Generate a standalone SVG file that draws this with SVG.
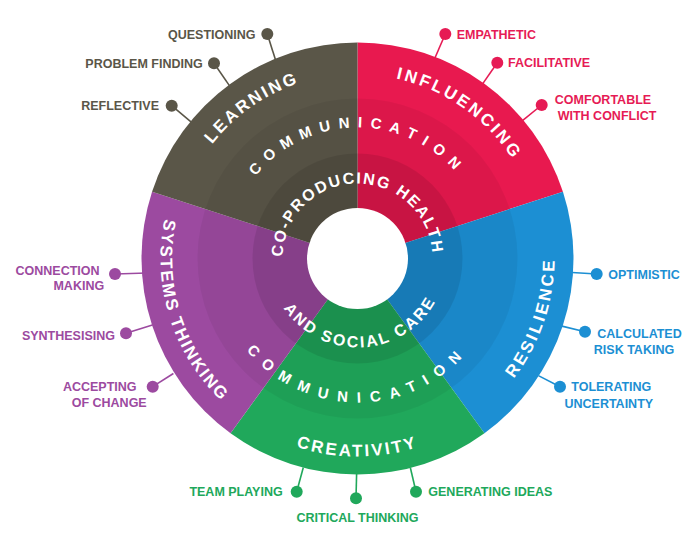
<svg xmlns="http://www.w3.org/2000/svg" xmlns:xlink="http://www.w3.org/1999/xlink" width="688" height="533" viewBox="0 0 688 533">
<style>
text{font-family:"Liberation Sans",Arial,sans-serif;font-weight:bold;}
.lbl{font-size:12.5px;}
.wt{fill:#fff;font-size:17px;}
.ring{fill:#fff;font-size:15px;}
.inner{fill:#fff;font-size:16px;}
.ol{fill:#5a5648}.rd{fill:#e61b55}.bl{fill:#1c8fd3}.gr{fill:#20a85b}.pu{fill:#9c4aa0}
.con line{stroke-width:1.6}
</style>
<defs>
<path id="pLearn" d="M189.83,336.68 A185,185 0 0 1 488.31,127.69"/>
<path id="pInfl" d="M227.39,128.39 A184,184 0 0 1 524.26,336.26"/>
<path id="pCommTop" d="M228.49,235.75 A131,131 0 0 1 486.51,235.75"/>
<path id="pCoProd" d="M282.91,266.34 A75,75 0 1 1 432.32,263.73"/>
<path id="pSocial" d="M269.37,270.89 A89,89 0 0 0 446.45,261.61"/>
<path id="pCommBot" d="M215.69,283.51 A144,144 0 0 0 499.31,283.51"/>
<path id="pCreat" d="M162.51,292.88 A198,198 0 0 0 552.49,292.88"/>
<path id="pSys" d="M266.54,83.76 A197,197 0 0 0 383.21,453.81"/>
<path id="pRes" d="M327.70,453.23 A197,197 0 0 0 452.10,85.70"/>
</defs>

<g id="connectors" class="con">
<line x1="267.3" y1="34" x2="276.5" y2="63" stroke="#5a5648"/>
<line x1="214" y1="63.3" x2="230.1" y2="86.6" stroke="#5a5648"/>
<line x1="171.7" y1="105.7" x2="191.3" y2="122.2" stroke="#5a5648"/>
<line x1="445.3" y1="34" x2="434.6" y2="58.8" stroke="#e61b55"/>
<line x1="497.3" y1="62.7" x2="481.9" y2="84.9" stroke="#e61b55"/>
<line x1="541.7" y1="105" x2="520.6" y2="122.1" stroke="#e61b55"/>
<line x1="596.7" y1="274" x2="568" y2="272.2" stroke="#1c8fd3"/>
<line x1="585" y1="331.7" x2="560.9" y2="325.9" stroke="#1c8fd3"/>
<line x1="560" y1="386.7" x2="538.4" y2="375.6" stroke="#1c8fd3"/>
<line x1="296.7" y1="491.7" x2="303.3" y2="467.5" stroke="#20a85b"/>
<line x1="356" y1="498.3" x2="356.7" y2="470" stroke="#20a85b"/>
<line x1="416" y1="491.7" x2="410.3" y2="467.5" stroke="#20a85b"/>
<line x1="115" y1="274" x2="147" y2="273" stroke="#9c4aa0"/>
<line x1="126" y1="333.3" x2="152.4" y2="324.9" stroke="#9c4aa0"/>
<line x1="152.7" y1="386.7" x2="173.4" y2="373.5" stroke="#9c4aa0"/>
</g>

<g id="influencing">
<path d="M357.5,258.5 L357.5,42.5 A216,216 0 0 1 562.93,191.75 Z" fill="#e8194f"/>
</g>
<g id="resilience">
<path d="M357.5,258.5 L562.93,191.75 A216,216 0 0 1 484.46,433.25 Z" fill="#1c8fd3"/>
</g>
<g id="creativity">
<path d="M357.5,258.5 L484.46,433.25 A216,216 0 0 1 230.54,433.25 Z" fill="#20a85b"/>
</g>
<g id="systems-thinking">
<path d="M357.5,258.5 L230.54,433.25 A216,216 0 0 1 152.07,191.75 Z" fill="#9c4aa0"/>
</g>
<g id="learning">
<path d="M357.5,258.5 L152.07,191.75 A216,216 0 0 1 357.5,42.5 Z" fill="#5a5648"/>
</g>

<g id="rings">
<circle cx="357.5" cy="258.5" r="160" fill="#000" fill-opacity="0.05"/>
<circle cx="357.5" cy="258.5" r="105" fill="#000" fill-opacity="0.09"/>
<circle cx="357.5" cy="258.5" r="50.5" fill="#fff"/>
</g>

<g id="wheel-titles">
<text class="wt" letter-spacing="2.5"><textPath xlink:href="#pLearn" href="#pLearn" startOffset="50%" text-anchor="middle">LEARNING</textPath></text>
<text class="wt" letter-spacing="2.8"><textPath xlink:href="#pInfl" href="#pInfl" startOffset="50%" text-anchor="middle">INFLUENCING</textPath></text>
<text class="wt" letter-spacing="2.8"><textPath xlink:href="#pRes" href="#pRes" startOffset="50%" text-anchor="middle">RESILIENCE</textPath></text>
<text class="wt" letter-spacing="2.5"><textPath xlink:href="#pCreat" href="#pCreat" startOffset="50%" text-anchor="middle">CREATIVITY</textPath></text>
<text class="wt" letter-spacing="2"><textPath xlink:href="#pSys" href="#pSys" startOffset="50%" text-anchor="middle">SYSTEMS THINKING</textPath></text>
</g>

<g id="communication">
<text class="ring" letter-spacing="8"><textPath xlink:href="#pCommTop" href="#pCommTop" startOffset="50%" text-anchor="middle">COMMUNICATION</textPath></text>
<text class="ring" letter-spacing="9.5"><textPath xlink:href="#pCommBot" href="#pCommBot" startOffset="50%" text-anchor="middle">COMMUNICATION</textPath></text>
</g>

<g id="co-producing">
<text class="inner" letter-spacing="1.8"><textPath xlink:href="#pCoProd" href="#pCoProd" startOffset="50%" text-anchor="middle">CO-PRODUCING HEALTH</textPath></text>
<text class="inner" letter-spacing="2.3"><textPath xlink:href="#pSocial" href="#pSocial" startOffset="50%" text-anchor="middle">AND SOCIAL CARE</textPath></text>
</g>

<g id="questioning"><circle cx="267.3" cy="34" r="6" class="ol"/><text class="lbl ol" x="255.5" y="38.5" text-anchor="end">QUESTIONING</text></g>
<g id="problem-finding"><circle cx="214" cy="63.3" r="6" class="ol"/><text class="lbl ol" x="202.7" y="67.8" text-anchor="end">PROBLEM FINDING</text></g>
<g id="reflective"><circle cx="171.7" cy="105.7" r="6" class="ol"/><text class="lbl ol" x="159" y="110.2" text-anchor="end">REFLECTIVE</text></g>

<g id="empathetic"><circle cx="445.3" cy="34" r="6" class="rd"/><text class="lbl rd" x="456.7" y="38.5">EMPATHETIC</text></g>
<g id="facilitative"><circle cx="497.3" cy="62.7" r="6" class="rd"/><text class="lbl rd" x="508" y="67.2">FACILITATIVE</text></g>
<g id="comfortable"><circle cx="541.7" cy="105" r="6" class="rd"/><text class="lbl rd" text-anchor="middle"><tspan x="603" y="103.8">COMFORTABLE</tspan><tspan x="607" y="119.5">WITH CONFLICT</tspan></text></g>

<g id="optimistic"><circle cx="596.7" cy="274" r="6" class="bl"/><text class="lbl bl" x="608.3" y="278.5">OPTIMISTIC</text></g>
<g id="calculated"><circle cx="585" cy="331.7" r="6" class="bl"/><text class="lbl bl" text-anchor="middle"><tspan x="639.5" y="337.8">CALCULATED</tspan><tspan x="634" y="353.8">RISK TAKING</tspan></text></g>
<g id="tolerating"><circle cx="560" cy="386.7" r="6" class="bl"/><text class="lbl bl" text-anchor="middle"><tspan x="611.3" y="391.2">TOLERATING</tspan><tspan x="608.8" y="407.8">UNCERTAINTY</tspan></text></g>

<g id="team-playing"><circle cx="296.7" cy="491.7" r="6" class="gr"/><text class="lbl gr" x="282.7" y="496.2" text-anchor="end">TEAM PLAYING</text></g>
<g id="critical-thinking"><circle cx="356" cy="498.3" r="6" class="gr"/><text class="lbl gr" x="357.5" y="521.8" text-anchor="middle">CRITICAL THINKING</text></g>
<g id="generating-ideas"><circle cx="416" cy="491.7" r="6" class="gr"/><text class="lbl gr" x="428.3" y="496.2">GENERATING IDEAS</text></g>

<g id="connection-making"><circle cx="115" cy="274" r="6" class="pu"/><text class="lbl pu" text-anchor="middle"><tspan x="57.5" y="274.5">CONNECTION</tspan><tspan x="78.8" y="289.5">MAKING</tspan></text></g>
<g id="synthesising"><circle cx="126" cy="333.3" r="6" class="pu"/><text class="lbl pu" x="115" y="339.5" text-anchor="end">SYNTHESISING</text></g>
<g id="accepting-of-change"><circle cx="152.7" cy="386.7" r="6" class="pu"/><text class="lbl pu" text-anchor="middle"><tspan x="99.7" y="390.5">ACCEPTING</tspan><tspan x="109.2" y="407.2">OF CHANGE</tspan></text></g>
</svg>
